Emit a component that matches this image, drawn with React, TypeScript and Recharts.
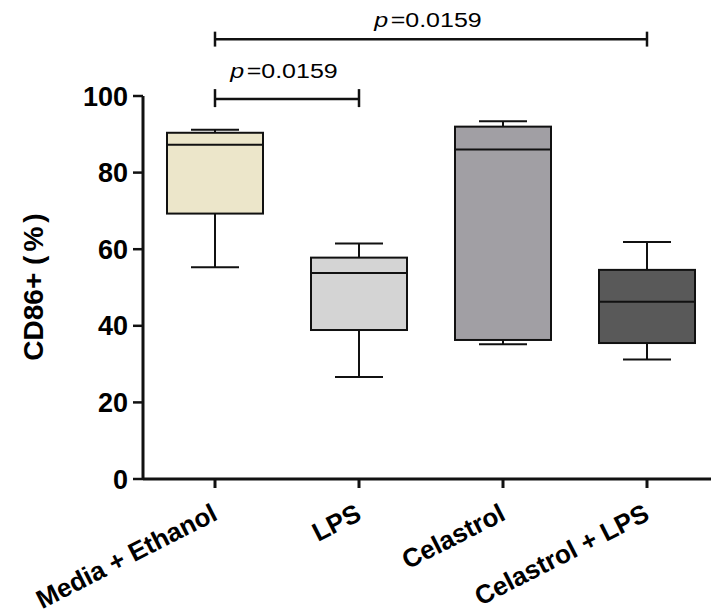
import { ComposedChart, Bar, XAxis, YAxis, ReferenceLine } from 'recharts';

const categories = ['Media + Ethanol', 'LPS', 'Celastrol', 'Celastrol + LPS'];
const minValues = [55.3, 26.6, 35.2, 31.2];
const q1Values = [69.3, 38.9, 36.3, 35.5];
const medianValues = [87.3, 53.8, 86.0, 46.3];
const q3Values = [90.4, 57.8, 92.0, 54.6];
const maxValues = [91.2, 61.5, 93.4, 61.9];
const yTicks = [0, 20, 40, 60, 80, 100];
const pLabel = '=0.0159';

const boxFills = ['#ECE6CA', '#D4D4D4', '#A19FA4', '#595959'];
const FONT = '"Liberation Sans", Arial, sans-serif';
const INK = '#111';

const data = categories.map((name, i) => ({
  name,
  min: minValues[i],
  q1: q1Values[i],
  median: medianValues[i],
  q3: q3Values[i],
  max: maxValues[i],
}));

// bar runs 0..q3, so the pixel scale can be read back from its height
const BoxShape = (props: any) => {
  const { x, y, width, height, payload, index } = props;
  const unit = height / payload.q3;
  const base = y + height;
  const py = (v: number) => base - v * unit;
  const cx = x + width / 2;
  const cap = width / 4;
  return (
    <g>
      <line x1={cx} x2={cx} y1={py(payload.max)} y2={py(payload.q3)} stroke={INK} strokeWidth={2} />
      <line x1={cx} x2={cx} y1={py(payload.q1)} y2={py(payload.min)} stroke={INK} strokeWidth={2} />
      <line x1={cx - cap} x2={cx + cap} y1={py(payload.max)} y2={py(payload.max)} stroke={INK} strokeWidth={2} />
      <line x1={cx - cap} x2={cx + cap} y1={py(payload.min)} y2={py(payload.min)} stroke={INK} strokeWidth={2} />
      <rect
        x={x}
        y={py(payload.q3)}
        width={width}
        height={py(payload.q1) - py(payload.q3)}
        fill={boxFills[index]}
        stroke={INK}
        strokeWidth={2}
      />
      <line x1={x} x2={x + width} y1={py(payload.median)} y2={py(payload.median)} stroke={INK} strokeWidth={2} />
    </g>
  );
};

const XTick = ({ x, y, payload }: any) => (
  <g transform={`translate(${x + 4},${y + 29})`}>
    <text
      textAnchor="end"
      transform="rotate(-27)"
      fontFamily={FONT}
      fontWeight="bold"
      fontSize={26}
      fill="#000"
    >
      {payload.value}
    </text>
  </g>
);

// the p-values are set in a wide face in the original; stretch a little
const makePLabel = (gap: number) => (props: any) => {
  const vb = props.viewBox || {};
  const cx = vb.x + (vb.width || 0) / 2;
  return (
    <text
      transform={`translate(${cx - 3},${vb.y - gap}) scale(1.25,1)`}
      textAnchor="middle"
      fontFamily={FONT}
      fontSize={20}
      fill="#000"
    >
      <tspan fontStyle="italic">p</tspan>
      <tspan dx={2}>{pLabel}</tspan>
    </text>
  );
};

const YLabel = () => (
  <text
    x={0}
    y={0}
    transform="translate(43,287) rotate(-90)"
    textAnchor="middle"
    fontFamily={FONT}
    fontWeight="bold"
    fontSize={28}
    fill="#000"
  >
    CD86+ (<tspan dx={4}>%</tspan><tspan dx={4}>)</tspan>
  </text>
);

const bracketStyle = { stroke: INK, strokeWidth: 2.5 };

export default function App() {
  return (
    <div style={{ position: 'absolute', left: 0, top: 0, width: 711, height: 616, overflow: 'hidden', background: '#fff' }}>
      <ComposedChart width={719} height={616} data={data} margin={{ top: 96, right: 0, bottom: 0, left: 0 }}>
        <XAxis
          dataKey="name"
          height={137}
          interval={0}
          tick={<XTick />}
          tickSize={9}
          axisLine={{ stroke: INK, strokeWidth: 3 }}
          tickLine={{ stroke: INK, strokeWidth: 3 }}
        />
        <YAxis
          domain={[0, 100]}
          ticks={yTicks}
          width={143}
          tickSize={10}
          tickMargin={5}
          axisLine={{ stroke: INK, strokeWidth: 3 }}
          tickLine={{ stroke: INK, strokeWidth: 2.5 }}
          tick={{ fontSize: 27, fontWeight: 'bold', fill: '#000', fontFamily: FONT }}
          label={<YLabel />}
        />
        <Bar dataKey="q3" barSize={96} shape={<BoxShape />} isAnimationActive={false} />

        {/* Media vs Celastrol + LPS */}
        <ReferenceLine
          segment={[{ x: categories[0], y: 114.8 }, { x: categories[3], y: 114.8 }]}
          ifOverflow="visible"
          {...bracketStyle}
          label={makePLabel(12)}
        />
        <ReferenceLine segment={[{ x: categories[0], y: 112.9 }, { x: categories[0], y: 116.8 }]} ifOverflow="visible" {...bracketStyle} />
        <ReferenceLine segment={[{ x: categories[3], y: 112.9 }, { x: categories[3], y: 116.8 }]} ifOverflow="visible" {...bracketStyle} />

        {/* Media vs LPS */}
        <ReferenceLine
          segment={[{ x: categories[0], y: 99.2 }, { x: categories[1], y: 99.2 }]}
          ifOverflow="visible"
          {...bracketStyle}
          label={makePLabel(21)}
        />
        <ReferenceLine segment={[{ x: categories[0], y: 97.1 }, { x: categories[0], y: 101.8 }]} ifOverflow="visible" {...bracketStyle} />
        <ReferenceLine segment={[{ x: categories[1], y: 97.1 }, { x: categories[1], y: 101.8 }]} ifOverflow="visible" {...bracketStyle} />
      </ComposedChart>
    </div>
  );
}
